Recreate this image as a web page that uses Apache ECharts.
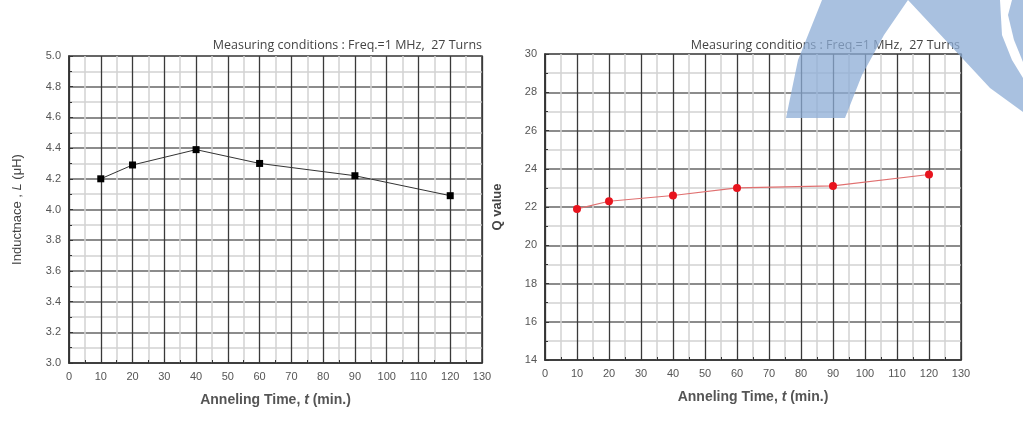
<!DOCTYPE html>
<html>
<head>
<meta charset="utf-8">
<script src="https://cdn.jsdelivr.net/npm/echarts@6/dist/echarts.min.js"></script>
<style>
html,body{margin:0;padding:0;background:#fff;}
#c{width:1023px;height:443px;}
</style>
</head>
<body>
<div id="c"></div>
<script>
// ---- data ----
const timeMin = [10, 20, 40, 60, 90, 120];
const inductance = [4.20, 4.29, 4.39, 4.30, 4.22, 4.09];
const qValue = [21.9, 22.3, 22.6, 23.0, 23.1, 23.7];
const conditionText = 'Measuring conditions : Freq.=1 MHz,  27 Turns';
const xName = 'Anneling Time, ';

const chart = echarts.init(document.getElementById('c'));

function xAxisCfg(gridIndex) {
  return {
    type: 'value', gridIndex: gridIndex, min: 0, max: 130, interval: 10,
    name: '{n|' + xName + '}{i|t}{n| (min.)}',
    nameLocation: 'middle', nameGap: 30,
    nameTextStyle: {
      rich: {
        n: {fontFamily: 'Liberation Sans', fontSize: 14, color: '#555', fontWeight: 'bold'},
        i: {fontFamily: 'Liberation Sans', fontSize: 14, color: '#555', fontStyle: 'italic', fontWeight: 'bold'}
      }
    },
    axisLine: {show: true, onZero: false, lineStyle: {color: '#333', width: 1.5}},
    axisTick: {show: true, inside: true, length: 4, lineStyle: {color: '#333'}},
    minorTick: {show: true, splitNumber: 2, length: 3, lineStyle: {color: '#333'}},
    axisLabel: {fontFamily: 'Liberation Sans', fontSize: 11, color: '#555', margin: 8},
    splitLine: {show: true, lineStyle: {color: '#3a3a3a', width: 1.3}},
    minorSplitLine: {show: true, lineStyle: {color: '#d2d2d2', width: 1.5}}
  };
}

function yAxisCfg(gridIndex, min, max, interval, name, gap, fmt) {
  return {
    type: 'value', gridIndex: gridIndex, min: min, max: max, interval: interval,
    name: name, nameLocation: 'middle', nameGap: gap,
    nameTextStyle: {
      rich: {
        n: {fontFamily: 'Liberation Sans', fontSize: 13, color: '#444'},
        i: {fontFamily: 'Liberation Sans', fontSize: 13, color: '#444', fontStyle: 'italic'},
        b: {fontFamily: 'Liberation Sans', fontSize: 13, color: '#444', fontWeight: 'bold'}
      }
    },
    axisLine: {show: true, onZero: false, lineStyle: {color: '#333', width: 1.5}},
    axisTick: {show: true, inside: true, length: 4, lineStyle: {color: '#333'}},
    minorTick: {show: true, splitNumber: 2, length: 3, lineStyle: {color: '#333'}},
    axisLabel: {fontFamily: 'Liberation Sans', fontSize: 11, color: '#555', margin: 8, formatter: fmt},
    splitLine: {show: true, lineStyle: {color: '#666', width: 1.5}},
    minorSplitLine: {show: true, lineStyle: {color: '#d2d2d2', width: 1.5}}
  };
}

chart.setOption({
  animation: false,
  backgroundColor: '#fff',
  grid: [
    {left: 69, top: 56, width: 413, height: 307, show: true, borderColor: '#333', borderWidth: 1.5},
    {left: 545, top: 54, width: 416, height: 306, show: true, borderColor: '#333', borderWidth: 1.5}
  ],
  xAxis: [xAxisCfg(0), xAxisCfg(1)],
  yAxis: [
    yAxisCfg(0, 3.0, 5.0, 0.2, '{n|Inductnace , }{i|L}{n| (μH)}', 45, v => v.toFixed(1)),
    yAxisCfg(1, 14, 30, 2, '{b|Q value}', 41, v => String(v))
  ],
  series: [
    {
      type: 'line', xAxisIndex: 0, yAxisIndex: 0,
      data: timeMin.map((t, i) => [t, inductance[i]]),
      symbol: 'rect', symbolSize: 7,
      lineStyle: {color: '#333', width: 1},
      itemStyle: {color: '#000'},
      z: 5
    },
    {
      type: 'line', xAxisIndex: 1, yAxisIndex: 1,
      data: timeMin.map((t, i) => [t, qValue[i]]),
      symbol: 'circle', symbolSize: 8,
      lineStyle: {color: '#e07070', width: 1.2},
      itemStyle: {color: '#e8141e'},
      z: 5
    }
  ],
  graphic: [
    {type: 'text', right: 1023 - 482, top: 39, style: {text: conditionText, font: '12.5px "Open Sans"', fill: '#444'}},
    {type: 'text', right: 1023 - 960, top: 39, style: {text: conditionText, font: '12.5px "Open Sans"', fill: '#444'}},
    {type: 'polygon', z: 100, silent: true,
      shape: {points: [[822,0],[908,0],[884,35],[862,75],[845,118],[786,118],[798,60]]},
      style: {fill: 'rgba(140,172,214,0.75)'}},
    {type: 'polygon', z: 100, silent: true,
      shape: {points: [[908,0],[1000,0],[1002,35],[1012,60],[1023,78],[1023,112],[990,88],[950,45]]},
      style: {fill: 'rgba(140,172,214,0.75)'}},
    {type: 'polygon', z: 100, silent: true,
      shape: {points: [[1012,0],[1023,0],[1023,62],[1014,40],[1008,15]]},
      style: {fill: 'rgba(140,172,214,0.75)'}}
  ]
});
</script>
</body>
</html>
